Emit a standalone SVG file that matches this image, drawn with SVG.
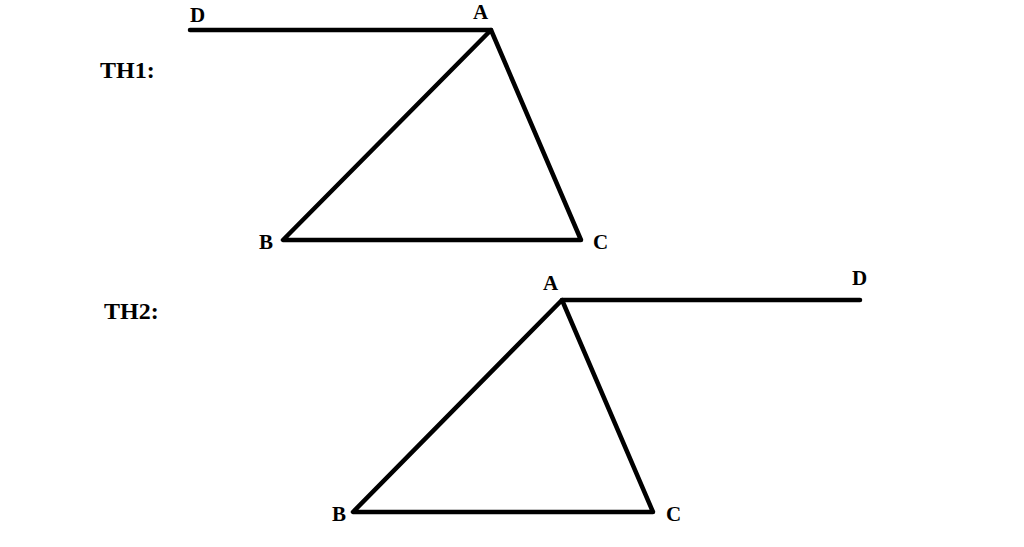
<svg xmlns="http://www.w3.org/2000/svg" width="1024" height="547" viewBox="0 0 1024 547">
<style>
.ln{stroke:#000;stroke-width:4.5;fill:none;stroke-linecap:round;stroke-linejoin:round}
.lb{font-family:"Liberation Serif","Times New Roman",serif;font-weight:bold;font-size:21px;fill:#000}
.th{font-family:"Liberation Serif","Times New Roman",serif;font-weight:bold;font-size:24px;fill:#000}
</style>
<rect width="1024" height="547" fill="#fff"/>
<g id="connectors">
<polyline class="ln" points="190,30 491,30"/>
<polygon class="ln" points="491,30 283,240 581,240"/>
<polyline class="ln" points="562,300 860,300"/>
<polygon class="ln" points="562,300 353,512 653,512"/>
</g>
<g id="labels-th1">
<text class="th" x="100" y="78">TH1:</text>
<text class="lb" x="190" y="22">D</text>
<text class="lb" x="473" y="19">A</text>
<text class="lb" x="259" y="249">B</text>
<text class="lb" x="593" y="249">C</text>
</g>
<g id="labels-th2">
<text class="th" x="104" y="319">TH2:</text>
<text class="lb" x="543" y="290">A</text>
<text class="lb" x="852" y="285">D</text>
<text class="lb" x="332" y="521">B</text>
<text class="lb" x="666" y="521">C</text>
</g>
</svg>
